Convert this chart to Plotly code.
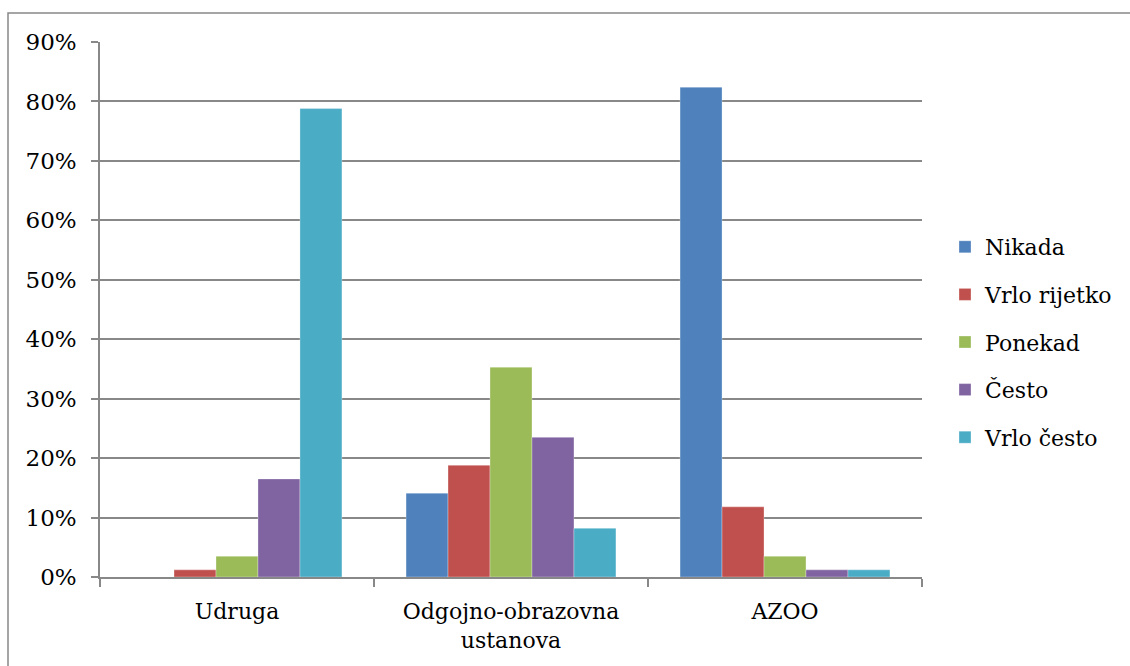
import plotly.graph_objects as go

categories = ["Udruga", "Odgojno-obrazovna<br>ustanova", "AZOO"]
series_names = ["Nikada", "Vrlo rijetko", "Ponekad", "Često", "Vrlo često"]
nikada = [0.0, 0.141, 0.824]
vrlo_rijetko = [0.012, 0.188, 0.118]
ponekad = [0.035, 0.353, 0.035]
cesto = [0.165, 0.235, 0.012]
vrlo_cesto = [0.788, 0.082, 0.012]
colors = ["#4F81BD", "#C0504D", "#9BBB59", "#8064A2", "#4BACC6"]
y_ticks = [0, 0.1, 0.2, 0.3, 0.4, 0.5, 0.6, 0.7, 0.8, 0.9]

FONT = "DejaVu Serif"
fig = go.Figure()
for i, (name, vals) in enumerate(zip(series_names, [nikada, vrlo_rijetko, ponekad, cesto, vrlo_cesto])):
    fig.add_trace(go.Bar(
        x=categories, y=vals, name=name, legendgroup=f"g{i}",
        marker=dict(color=colors[i], line=dict(color="rgba(255,255,255,0.6)", width=0.5)),
    ))

W, H = 1130, 666
L, R, T, B = 100, 208, 42, 89
pw, ph = W - L - R, H - T - B

def px(x):
    return (x - L) / pw

def py(y):
    return (H - B - y) / ph

fig.update_layout(
    width=W, height=H,
    margin=dict(l=L, r=R, t=T, b=B, autoexpand=False),
    paper_bgcolor="white", plot_bgcolor="white",
    barmode="group", bargap=0.234, bargroupgap=0,
    font=dict(family=FONT, size=22, color="#000000"),
    showlegend=True,
    legend=dict(x=px(945), y=py(342), xanchor="left", yanchor="middle",
                font=dict(family=FONT, size=22, color="#000000"),
                tracegroupgap=16, itemwidth=30, bgcolor="rgba(0,0,0,0)"),
    xaxis=dict(
        type="category", showgrid=False, showline=True, linecolor="#888888", linewidth=1.5,
        ticks="outside", ticklen=8, tickcolor="#888888", tickwidth=1.5, tickson="boundaries",
        tickfont=dict(family=FONT, size=22), ticklabelstandoff=14,
    ),
    yaxis=dict(
        range=[0, 0.9], tickvals=y_ticks, tickformat=".0%",
        showgrid=True, gridcolor="#888888", gridwidth=1.5,
        showline=True, linecolor="#888888", linewidth=1.5,
        ticks="outside", ticklen=7, tickcolor="#888888", tickwidth=1.5,
        tickfont=dict(family=FONT, size=23), ticklabelstandoff=10, zeroline=False,
    ),
    shapes=[dict(type="rect", xref="paper", yref="paper",
                 x0=px(8), x1=px(1140), y0=py(680), y1=py(13),
                 line=dict(color="#888888", width=1.5), fillcolor="rgba(0,0,0,0)", layer="below")],
)

fig.write_html("out.html", config={"displayModeBar": False},
               post_script="document.body.style.margin='0';document.body.style.overflow='hidden';")
